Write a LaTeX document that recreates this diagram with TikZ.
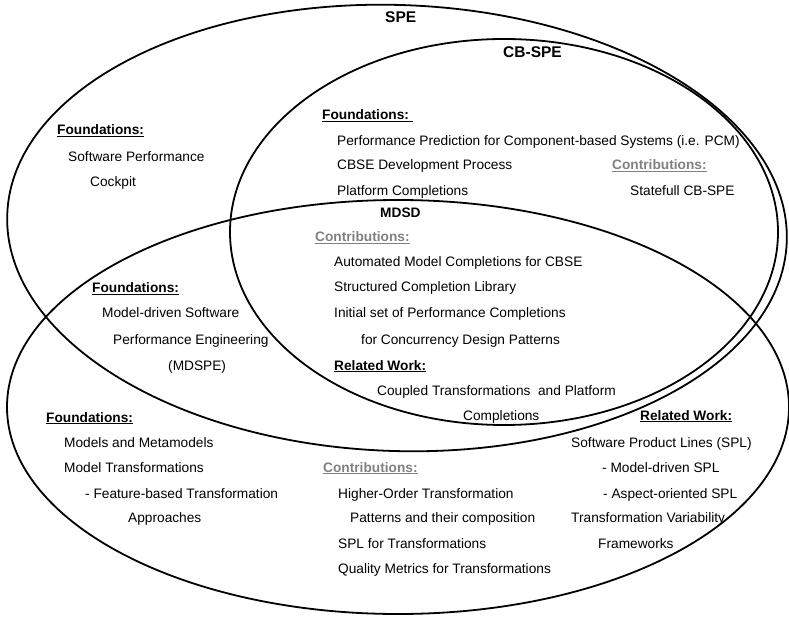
\documentclass[tikz,border=0pt]{standalone}
\usepackage{fontspec}
\setmainfont{Liberation Sans}
\definecolor{contribgray}{RGB}{128,128,128}
\begin{document}
\begin{tikzpicture}[x=1pt,y=-1pt,
  ring/.style={draw=black, line width=1.8pt},
  body/.style={anchor=base west, inner sep=0pt, font=\fontsize{13.7}{16}\selectfont},
  head/.style={body, font=\fontsize{13.7}{16}\selectfont\bfseries},
  contrib/.style={head, text=contribgray},
  title/.style={anchor=base west, inner sep=0pt, font=\fontsize{15.5}{18}\selectfont\bfseries}]
\useasboundingbox (0,0) rectangle (789,617);

% the three overlapping areas
\draw[ring, shift={(397,228)}, rotate=-2] (0,0) ellipse [x radius=390, y radius=223];
\draw[ring] (504,232) ellipse [x radius=274, y radius=193];
\draw[ring] (398,407) ellipse [x radius=391, y radius=207];

% area titles
\node[title] (tSPE) at (385,22.5) {SPE};
\node[title] (tCB) at (503,57.5) {CB-SPE};
\node[head] (tMDSD) at (380,218) {MDSD};

% SPE only
\node[head] (f1) at (57,135) {\underline{Foundations:}};
\node[body] (f1a) at (68,162) {Software Performance};
\node[body] (f1b) at (90,187) {Cockpit};

% CB-SPE
\node[head] (f2) at (322,120) {\underline{Foundations:\ }};
\node[body] (f2a) at (337,146) {Performance Prediction for Component-based Systems (i.e. PCM)};
\node[body] (f2b) at (337,170) {CBSE Development Process};
\node[body] (f2c) at (337,196) {Platform Completions};
\node[contrib] (c2) at (612,170) {\underline{Contributions:}};
\node[body] (c2a) at (630,196) {Statefull CB-SPE};

% SPE and MDSD
\node[head] (f3) at (92,293) {\underline{Foundations:}};
\node[body] (f3a) at (102,318) {Model-driven Software};
\node[body] (f3b) at (113,344) {Performance Engineering};
\node[body] (f3c) at (168,370) {(MDSPE)};

% CB-SPE and MDSD
\node[contrib] (c3) at (315,242) {\underline{Contributions:}};
\node[body] (c3a) at (334,267) {Automated Model Completions for CBSE};
\node[body] (c3b) at (334,292) {Structured Completion Library};
\node[body] (c3c) at (334,318) {Initial set of Performance Completions};
\node[body] (c3d) at (361,344) {for Concurrency Design Patterns};
\node[head] (r3) at (334,370) {\underline{Related Work:}};
\node[body] (r3a) at (377,395) {Coupled Transformations\ \ and Platform};
\node[body] (r3b) at (463,420) {Completions};

% MDSD only
\node[head] (f4) at (46,422) {\underline{Foundations:}};
\node[body] (f4a) at (64,447) {Models and Metamodels};
\node[body] (f4b) at (64,472) {Model Transformations};
\node[body] (f4c) at (85,498) {- Feature-based Transformation};
\node[body] (f4d) at (128,522) {Approaches};
\node[contrib] (c4) at (323,472) {\underline{Contributions:}};
\node[body] (c4a) at (338,498) {Higher-Order Transformation};
\node[body] (c4b) at (350,522) {Patterns and their composition};
\node[body] (c4c) at (338,548) {SPL for Transformations};
\node[body] (c4d) at (338,573) {Quality Metrics for Transformations};
\node[head] (r4) at (640,420) {\underline{Related Work:}};
\node[body] (r4a) at (571,447) {Software Product Lines (SPL)};
\node[body] (r4b) at (602,472) {- Model-driven SPL};
\node[body] (r4c) at (603,498) {- Aspect-oriented SPL};
\node[body] (r4d) at (571,522) {Transformation Variability};
\node[body] (r4e) at (598,548) {Frameworks};
\end{tikzpicture}
\end{document}
